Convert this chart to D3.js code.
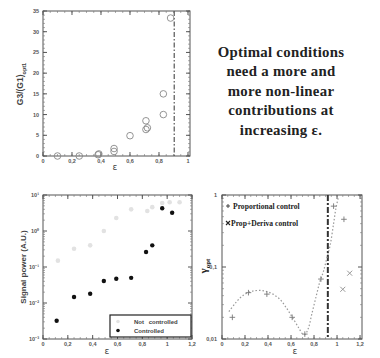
<!DOCTYPE html>
<html><head><meta charset="utf-8">
<script src="https://cdn.jsdelivr.net/npm/d3@7"></script>
<style>body{margin:0;background:#fff}svg{display:block}</style>
</head><body>
<svg id="c" width="380" height="358"></svg>
<script>
// Top-left: G3/(G1)opt vs epsilon
const g3eps = [0.10, 0.25, 0.38, 0.385, 0.49, 0.49, 0.60, 0.71, 0.71, 0.72, 0.83, 0.83, 0.88];
const g3val = [0.0, 0.0, 0.3, 0.5, 1.8, 1.1, 4.9, 8.5, 6.4, 6.8, 15.0, 10.0, 33.3];
const g3Ticks = [0, 5, 10, 15, 20, 25, 30, 35];
const epsTop = [0, 0.2, 0.4, 0.6, 0.8, 1];

// Bottom-left: Signal power
const spNotEps = [0.12, 0.25, 0.38, 0.49, 0.59, 0.71, 0.84, 0.88, 0.96, 1.02, 1.10];
const spNotVal = [0.15, 0.32, 0.40, 1.0, 2.3, 4.0, 3.6, 4.6, 6.0, 6.3, 6.3];
const spCtrlEps = [0.11, 0.25, 0.38, 0.49, 0.59, 0.71, 0.83, 0.88, 0.96, 1.04];
const spCtrlVal = [0.0032, 0.0147, 0.018, 0.041, 0.047, 0.050, 0.26, 0.40, 4.3, 3.2];
const spTicks = [1e-3, 1e-2, 1e-1, 1e0, 1e1];
const spTickLabels = ["10\u207B\u00B3", "10\u207B\u00B2", "10\u207B\u00B9", "10\u2070", "10\u00B9"];
const epsBottom = [0, 0.2, 0.4, 0.6, 0.8, 1, 1.2];

// Bottom-right: gamma opt
const propEps = [0.09, 0.23, 0.39, 0.61, 0.72, 0.86, 0.97, 1.06];
const propVal = [0.020, 0.044, 0.042, 0.020, 0.0117, 0.068, 0.70, 0.46];
const derEps = [1.05, 1.11];
const derVal = [0.049, 0.082];
const fitEps = [0.06, 0.12, 0.18, 0.26, 0.35, 0.43, 0.50, 0.56, 0.62, 0.67, 0.70, 0.72, 0.75, 0.78, 0.82, 0.85, 0.88, 0.91, 0.94, 0.97, 0.99, 1.01];
const fitVal = [0.024, 0.032, 0.040, 0.046, 0.047, 0.043, 0.036, 0.027, 0.019, 0.014, 0.0118, 0.0115, 0.014, 0.022, 0.040, 0.062, 0.085, 0.13, 0.20, 0.40, 0.65, 0.90];
const gTicks = [0.01, 0.1, 1];
const gTickLabels = ["0,01", "0,1", "1"];

const textLines = ["Optimal conditions", "need a more and", "more non-linear", "contributions at", "increasing \u03B5."];

const svg = d3.select("#c");
const fmt = d => d === 0 ? "0" : String(d).replace(".", ",");
const tickFont = "'Liberation Sans', Arial, sans-serif";

function frame(g, x, y, xt, yt, xminor, yminor) {
  const [x0, x1] = x.range(), [y0, y1] = y.range();
  const fg = g.append("g");
  fg.append("rect").attr("x", x0).attr("y", y1).attr("width", x1 - x0).attr("height", y0 - y1)
    .attr("fill", "none").attr("stroke", "#555").attr("stroke-width", 1);
  xminor.forEach(v => {
    const px = x(v);
    fg.append("line").attr("x1", px).attr("x2", px).attr("y1", y0).attr("y2", y0 - 2).attr("stroke", "#777").attr("stroke-width", 0.6);
    fg.append("line").attr("x1", px).attr("x2", px).attr("y1", y1).attr("y2", y1 + 2).attr("stroke", "#777").attr("stroke-width", 0.6);
  });
  yminor.forEach(v => {
    const py = y(v);
    fg.append("line").attr("x1", x0).attr("x2", x0 + 2).attr("y1", py).attr("y2", py).attr("stroke", "#777").attr("stroke-width", 0.6);
    fg.append("line").attr("x1", x1).attr("x2", x1 - 2).attr("y1", py).attr("y2", py).attr("stroke", "#777").attr("stroke-width", 0.6);
  });
  xt.forEach(v => {
    const px = x(v);
    fg.append("line").attr("x1", px).attr("x2", px).attr("y1", y0).attr("y2", y0 - 4).attr("stroke", "#555");
    fg.append("line").attr("x1", px).attr("x2", px).attr("y1", y1).attr("y2", y1 + 4).attr("stroke", "#555");
  });
  yt.forEach(v => {
    const py = y(v);
    fg.append("line").attr("x1", x0).attr("x2", x0 + 4).attr("y1", py).attr("y2", py).attr("stroke", "#555");
    fg.append("line").attr("x1", x1).attr("x2", x1 - 4).attr("y1", py).attr("y2", py).attr("stroke", "#555");
  });
  g.append("g").selectAll("text").data(xt).join("text")
    .attr("x", d => x(d)).attr("y", y0 + 7).attr("text-anchor", "middle")
    .attr("font-family", tickFont).attr("font-weight", "bold").attr("font-size", 5.5).attr("fill", "#555")
    .text(d => fmt(d));
}

// ---------- Top-left ----------
{
  const x = d3.scaleLinear().domain([0, 1.0138]).range([43, 190]);
  const y = d3.scaleLinear().domain([0, 35]).range([156, 11]);
  const g = svg.append("g");
  frame(g, x, y, epsTop, g3Ticks, d3.range(0, 1.0001, 0.05), d3.range(0, 35.001, 1));
  g.append("g").selectAll("text").data(g3Ticks).join("text")
    .attr("x", 39).attr("y", d => y(d) + 2).attr("text-anchor", "end")
    .attr("font-family", tickFont).attr("font-weight", "bold").attr("font-size", 5.5).attr("fill", "#555")
    .text(d => d);
  g.append("line").attr("x1", x(0.905)).attr("x2", x(0.905)).attr("y1", y(35)).attr("y2", y(0))
    .attr("stroke", "#555").attr("stroke-width", 1.2).attr("stroke-dasharray", "5,2,1.5,2");
  g.append("g").selectAll("circle").data(g3eps.map((e, i) => [e, g3val[i]])).join("circle")
    .attr("cx", d => x(d[0])).attr("cy", d => y(d[1])).attr("r", 3.3)
    .attr("fill", "none").attr("stroke", "#888").attr("stroke-width", 0.9);
  g.append("text").attr("x", 115).attr("y", 170).attr("text-anchor", "middle")
    .attr("font-family", "'DejaVu Sans', sans-serif").attr("font-size", 9).attr("fill", "#444").text("\u03B5");
  const yl = g.append("text").attr("transform", "translate(23,84) rotate(-90)").attr("text-anchor", "middle")
    .attr("font-family", tickFont).attr("font-weight", "bold").attr("font-size", 8.5).attr("fill", "#444");
  yl.append("tspan").text("G3/(G1)");
  yl.append("tspan").attr("font-size", 5.5).attr("dy", 2.5).text("opt1");
}

// ---------- Top-right text ----------
svg.append("g").selectAll("text").data(textLines).join("text")
  .attr("x", 281).attr("y", (d, i) => 57 + i * 19.4).attr("text-anchor", "middle")
  .attr("font-family", "'Liberation Serif', 'Times New Roman', serif").attr("font-weight", "bold")
  .attr("font-size", 14.8).attr("letter-spacing", 0.3).attr("fill", "#222").text(d => d);

// ---------- Bottom-left ----------
{
  const x = d3.scaleLinear().domain([0, 1.2]).range([43, 192]);
  const y = d3.scaleLog().domain([1e-3, 1e1]).range([339, 195]);
  const g = svg.append("g");
  const ym = [];
  [1e-3, 1e-2, 1e-1, 1e0].forEach(b => d3.range(2, 10).forEach(k => ym.push(b * k)));
  frame(g, x, y, epsBottom, spTicks, d3.range(0, 1.2001, 0.05), ym);
  g.append("g").selectAll("text").data(spTicks).join("text")
    .attr("x", 39).attr("y", d => y(d) + 2).attr("text-anchor", "end")
    .attr("font-family", tickFont).attr("font-weight", "bold").attr("font-size", 5.5).attr("fill", "#555")
    .text((d, i) => spTickLabels[i]);
  g.append("g").selectAll("circle.n").data(spNotEps.map((e, i) => [e, spNotVal[i]])).join("circle")
    .attr("cx", d => x(d[0])).attr("cy", d => y(d[1])).attr("r", 2.3).attr("fill", "#e2e2e2");
  g.append("g").selectAll("circle.c").data(spCtrlEps.map((e, i) => [e, spCtrlVal[i]])).join("circle")
    .attr("cx", d => x(d[0])).attr("cy", d => y(d[1])).attr("r", 2.2).attr("fill", "#111");
  g.append("rect").attr("x", 110).attr("y", 315).attr("width", 81).attr("height", 22)
    .attr("fill", "#fff").attr("stroke", "#222").attr("stroke-width", 1.2);
  g.append("circle").attr("cx", 118).attr("cy", 321.5).attr("r", 1.8).attr("fill", "#e2e2e2");
  g.append("circle").attr("cx", 118).attr("cy", 330.5).attr("r", 1.8).attr("fill", "#111");
  g.append("text").attr("x", 134).attr("y", 324).attr("font-family", tickFont).attr("font-weight", "bold")
    .attr("font-size", 6).attr("fill", "#444").attr("word-spacing", 3).text("Not controlled");
  g.append("text").attr("x", 134).attr("y", 333).attr("font-family", tickFont).attr("font-weight", "bold")
    .attr("font-size", 6).attr("fill", "#444").text("Controlled");
  g.append("text").attr("x", 107).attr("y", 354).attr("text-anchor", "middle")
    .attr("font-family", "'DejaVu Sans', sans-serif").attr("font-size", 9).attr("fill", "#444").text("\u03B5");
  g.append("text").attr("transform", "translate(26,267) rotate(-90)").attr("text-anchor", "middle")
    .attr("font-family", tickFont).attr("font-weight", "bold").attr("font-size", 8).attr("fill", "#444")
    .text("Signal power (A.U.)");
}

// ---------- Bottom-right ----------
{
  const x = d3.scaleLinear().domain([0, 1.217]).range([222, 362]);
  const y = d3.scaleLog().domain([0.01, 1]).range([339, 195]);
  const g = svg.append("g");
  const ym = [];
  [0.01, 0.1].forEach(b => d3.range(2, 10).forEach(k => ym.push(b * k)));
  frame(g, x, y, epsBottom, gTicks, d3.range(0, 1.2001, 0.05), ym);
  g.append("g").selectAll("text").data(gTicks).join("text")
    .attr("x", 217).attr("y", d => y(d) + 2).attr("text-anchor", "end")
    .attr("font-family", tickFont).attr("font-weight", "bold").attr("font-size", 5.5).attr("fill", "#555")
    .text((d, i) => gTickLabels[i]);
  g.append("line").attr("x1", x(0.92)).attr("x2", x(0.92)).attr("y1", y(1)).attr("y2", y(0.01))
    .attr("stroke", "#333").attr("stroke-width", 2).attr("stroke-dasharray", "6,2,2,2");
  const line = d3.line().curve(d3.curveCatmullRom).x(d => x(d[0])).y(d => y(d[1]));
  g.append("path").attr("d", line(fitEps.map((e, i) => [e, fitVal[i]])))
    .attr("fill", "none").attr("stroke", "#999").attr("stroke-width", 1.2).attr("stroke-dasharray", "1.5,2");
  g.append("g").selectAll("path.p").data(propEps.map((e, i) => [e, propVal[i]])).join("path")
    .attr("transform", d => `translate(${x(d[0])},${y(d[1])})`)
    .attr("d", "M-2.8,0H2.8M0,-2.8V2.8").attr("stroke", "#777").attr("stroke-width", 0.9).attr("fill", "none");
  g.append("g").selectAll("path.x").data(derEps.map((e, i) => [e, derVal[i]])).join("path")
    .attr("transform", d => `translate(${x(d[0])},${y(d[1])})`)
    .attr("d", "M-2.5,-2.5L2.5,2.5M-2.5,2.5L2.5,-2.5").attr("stroke", "#999").attr("stroke-width", 1).attr("fill", "none");
  const lf = "'Liberation Serif', 'Times New Roman', serif";
  g.append("path").attr("transform", "translate(228,206)").attr("d", "M-2,0H2M0,-2V2").attr("stroke", "#333").attr("stroke-width", 0.9);
  g.append("text").attr("x", 233).attr("y", 208.5).attr("font-family", lf).attr("font-weight", "bold")
    .attr("font-size", 7.6).attr("fill", "#222").text("Proportional control");
  g.append("path").attr("transform", "translate(228,223)").attr("d", "M-2,-2L2,2M-2,2L2,-2").attr("stroke", "#222").attr("stroke-width", 1.1);
  g.append("text").attr("x", 231).attr("y", 225.5).attr("font-family", lf).attr("font-weight", "bold")
    .attr("font-size", 7.6).attr("fill", "#222").text("Prop+Deriva control");
  g.append("text").attr("x", 295).attr("y", 354).attr("text-anchor", "middle")
    .attr("font-family", "'DejaVu Sans', sans-serif").attr("font-size", 9).attr("fill", "#444").text("\u03B5");
  const yl = g.append("text").attr("transform", "translate(207,266) rotate(-90)").attr("text-anchor", "middle")
    .attr("font-family", lf).attr("font-weight", "bold").attr("font-size", 11).attr("fill", "#222");
  yl.append("tspan").text("\u03B3");
  yl.append("tspan").attr("font-size", 7).attr("dy", 2.5).text("opt");
}
</script>
</body></html>
